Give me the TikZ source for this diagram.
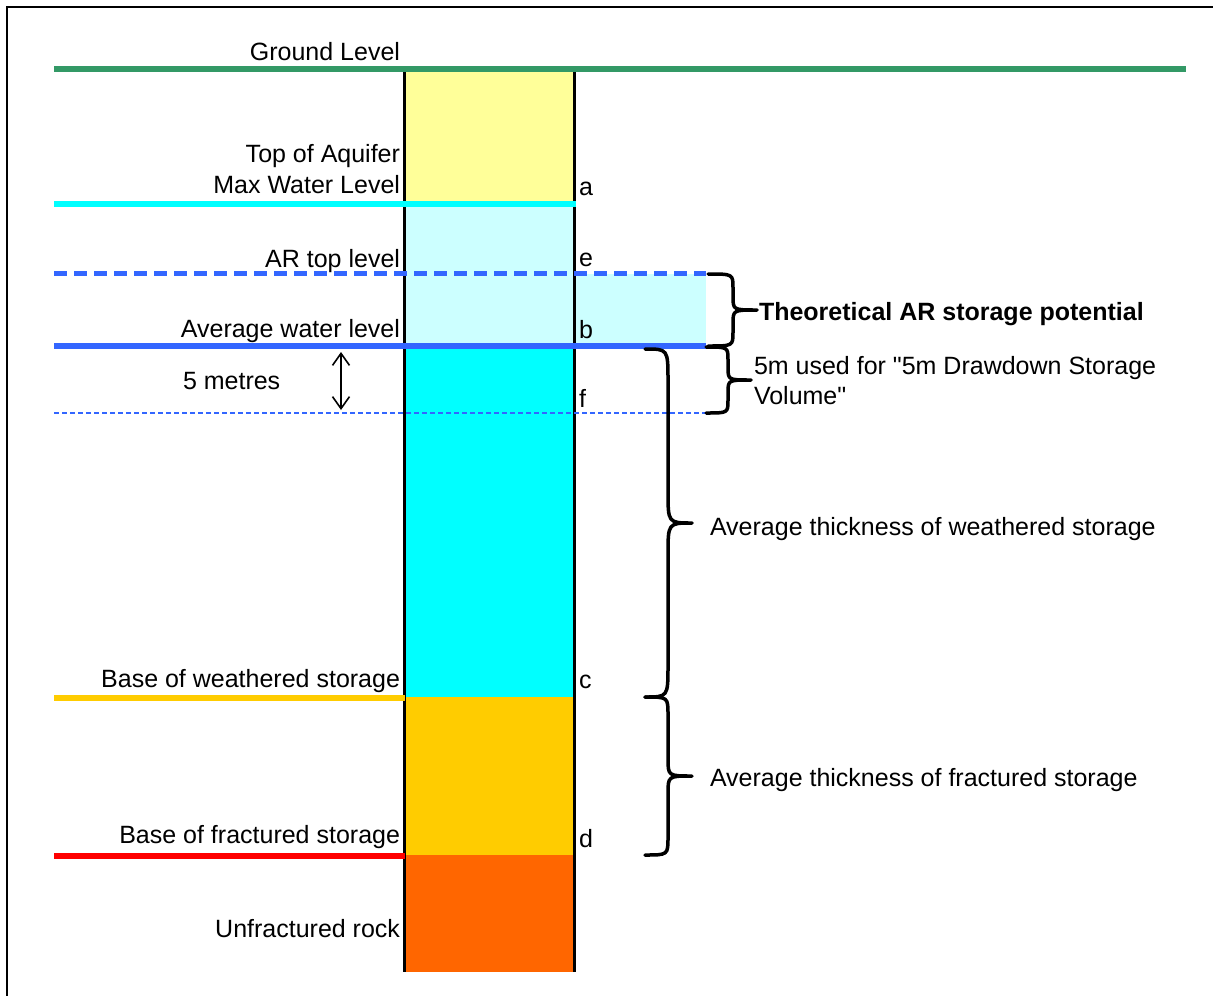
\documentclass[tikz,border=0pt]{standalone}
\usepackage{fontspec}
\setmainfont{Liberation Sans}
\newfontfamily\plainsans{Liberation Sans}[Ligatures=TeXOff]
\usetikzlibrary{arrows.meta}
\definecolor{groundgreen}{HTML}{339966}
\definecolor{paleyellow}{HTML}{FFFF99}
\definecolor{aquacyan}{HTML}{00FFFF}
\definecolor{palecyan}{HTML}{CCFFFF}
\definecolor{levelblue}{HTML}{3366FF}
\definecolor{goldy}{HTML}{FFCC00}
\definecolor{rockorange}{HTML}{FF6600}
\newcommand{\curlybr}[6]{%
  \draw[bracestyle] (#1,#2) .. controls (#4,#2) .. (#4,{#2+#6})
    -- (#4,{(#2+#3)/2-#6}) .. controls (#4,{(#2+#3)/2}) .. (#5,{(#2+#3)/2})
    .. controls (#4,{(#2+#3)/2}) .. (#4,{(#2+#3)/2+#6})
    -- (#4,{#3-#6}) .. controls (#4,#3) .. (#1,#3);}
\begin{document}
\begin{tikzpicture}[x=1pt,y=-1pt,
  font=\fontsize{25}{31}\selectfont,
  lbl/.style={inner sep=0pt, outer sep=0pt},
  leftlbl/.style={lbl, anchor=base east},
  rightlbl/.style={lbl, anchor=base west},
  bracestyle/.style={line width=3.5pt, line cap=round, line join=round},
  levelline/.style={line width=6pt},
  colside/.style={line width=3pt}]
\useasboundingbox (0,0) rectangle (1213,996);
% frame
\draw[line width=2.5pt] (7,1010) -- (7,7) -- (1225,7);
% column fills
\fill[paleyellow] (405,70) rectangle (574,203);
\fill[palecyan] (405,203) rectangle (574,346);
\fill[palecyan] (574,274) rectangle (706,346);
\fill[aquacyan] (405,346) rectangle (574,697);
\fill[goldy] (405,697) rectangle (576,855);
\fill[rockorange] (405,855) rectangle (574,972);
% column sides
\draw[colside] (404.5,70) -- (404.5,972);
\draw[colside] (574.5,70) -- (574.5,972);
% level lines
\draw[levelline, groundgreen] (54,68.5) -- (1186,68.5);
\draw[levelline, aquacyan] (54,203.5) -- (576,203.5);
\draw[line width=4.5pt, levelblue, dash pattern=on 13pt off 7pt] (54,273.5) -- (706,273.5);
\draw[line width=5.5pt, levelblue] (54,346) -- (706,346);
\draw[line width=2pt, levelblue, dash pattern=on 5pt off 3pt] (54,413) -- (706,413);
\draw[levelline, goldy] (54,697.5) -- (405,697.5);
\draw[levelline, red] (54,855.5) -- (405,855.5);
% 5 metres arrow
\coordinate (atop) at (341,352);
\coordinate (abot) at (341,410);
\draw[line width=1.6pt, {Straight Barb[length=12pt,width=17pt]}-{Straight Barb[length=12pt,width=17pt]}] (atop) -- (abot);
% braces
\curlybr{708}{274}{346}{733}{757}{14}
\curlybr{706}{347}{413}{728}{751}{13}
\curlybr{645}{349}{697}{668}{692}{32}
\curlybr{645}{697}{855}{668}{692}{18}
% left labels
\node[leftlbl] (ground) at (400,60) {Ground Level};
\node[leftlbl] (topaq) at (400,162) {Top of Aquifer};
\node[leftlbl] (maxwl) at (400,193) {Max Water Level};
\node[leftlbl] (artop) at (400,267) {AR top level};
\node[leftlbl] (avgwl) at (400,337) {Average water level};
\node[rightlbl] (fivem) at (183,389) {5 metres};
\node[leftlbl] (baseweath) at (400,687) {Base of weathered storage};
\node[leftlbl] (basefrac) at (400,843) {Base of fractured storage};
\node[leftlbl] (unfrac) at (400,937) {Unfractured rock};
% letters
\node[rightlbl] (la) at (579,195) {a};
\node[rightlbl] (le) at (579,266) {e};
\node[rightlbl] (lb) at (579,338) {b};
\node[rightlbl] (lf) at (579,407) {f};
\node[rightlbl] (lc) at (579,688) {c};
\node[rightlbl] (ld) at (579,847) {d};
% right labels
\node[rightlbl, font=\fontsize{25}{31}\selectfont\bfseries] (theo) at (759,320) {Theoretical AR storage potential};
\node[rightlbl, font=\fontsize{25}{31}\selectfont\plainsans] (dd1) at (754,374) {5m used for "5m Drawdown Storage};
\node[rightlbl, font=\fontsize{25}{31}\selectfont\plainsans] (dd2) at (754,404) {Volume"};
\node[rightlbl] (wthick) at (710,535) {Average thickness of weathered storage};
\node[rightlbl] (fthick) at (710,786) {Average thickness of fractured storage};
\end{tikzpicture}
\end{document}
